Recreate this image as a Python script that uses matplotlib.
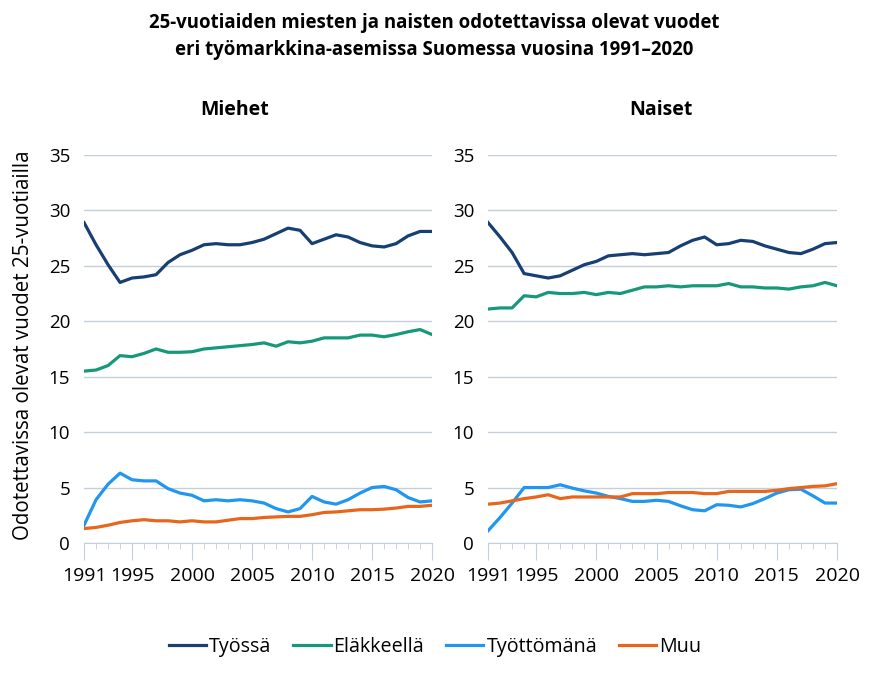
import numpy as np
import matplotlib
matplotlib.use("Agg")
import matplotlib.pyplot as plt
from matplotlib.ticker import MultipleLocator

plt.rcParams['font.family'] = ['Open Sans', 'DejaVu Sans']

years = np.arange(1991, 2021)

# Miehet
men_tyossa = [28.9, 26.9, 25.1, 23.5, 23.9, 24.0, 24.2, 25.3, 26.0, 26.4,
              26.9, 27.0, 26.9, 26.9, 27.1, 27.4, 27.9, 28.4, 28.2, 27.0,
              27.4, 27.8, 27.6, 27.1, 26.8, 26.7, 27.0, 27.7, 28.1, 28.1]
men_elakkeella = [15.5, 15.6, 16.0, 16.9, 16.8, 17.1, 17.5, 17.2, 17.2, 17.25,
                  17.5, 17.6, 17.7, 17.8, 17.9, 18.05, 17.75, 18.15, 18.05, 18.2,
                  18.5, 18.5, 18.5, 18.75, 18.75, 18.6, 18.8, 19.05, 19.25, 18.8]
men_tyottomana = [1.6, 3.9, 5.3, 6.3, 5.7, 5.6, 5.6, 4.9, 4.5, 4.3,
                  3.8, 3.9, 3.8, 3.9, 3.8, 3.6, 3.1, 2.8, 3.1, 4.2,
                  3.7, 3.5, 3.9, 4.5, 5.0, 5.1, 4.8, 4.1, 3.7, 3.8]
men_muu = [1.3, 1.4, 1.6, 1.85, 2.0, 2.1, 2.0, 2.0, 1.9, 2.0,
           1.9, 1.9, 2.05, 2.2, 2.2, 2.3, 2.35, 2.4, 2.4, 2.55,
           2.75, 2.8, 2.9, 3.0, 3.0, 3.05, 3.15, 3.3, 3.3, 3.4]

# Naiset
women_tyossa = [28.9, 27.6, 26.2, 24.3, 24.1, 23.9, 24.1, 24.6, 25.1, 25.4,
                25.9, 26.0, 26.1, 26.0, 26.1, 26.2, 26.8, 27.3, 27.6, 26.9,
                27.0, 27.3, 27.2, 26.8, 26.5, 26.2, 26.1, 26.5, 27.0, 27.1]
women_elakkeella = [21.1, 21.2, 21.2, 22.3, 22.2, 22.6, 22.5, 22.5, 22.6, 22.4,
                    22.6, 22.5, 22.8, 23.1, 23.1, 23.2, 23.1, 23.2, 23.2, 23.2,
                    23.4, 23.1, 23.1, 23.0, 23.0, 22.9, 23.1, 23.2, 23.5, 23.2]
women_tyottomana = [1.1, 2.3, 3.6, 5.0, 5.0, 5.0, 5.25, 4.95, 4.7, 4.5,
                    4.2, 4.0, 3.75, 3.75, 3.85, 3.75, 3.35, 3.0, 2.9, 3.45,
                    3.4, 3.25, 3.55, 4.0, 4.5, 4.8, 4.85, 4.25, 3.6, 3.6]
women_muu = [3.5, 3.6, 3.8, 4.0, 4.15, 4.35, 4.0, 4.15, 4.15, 4.15,
             4.15, 4.15, 4.45, 4.45, 4.45, 4.55, 4.55, 4.55, 4.45, 4.45,
             4.65, 4.65, 4.65, 4.65, 4.75, 4.9, 5.0, 5.1, 5.15, 5.35]

labels = ["Työssä", "Eläkkeellä", "Työttömänä", "Muu"]
colors = ["#173f72", "#16997a", "#2196f0", "#e8661c"]
year_labels = ["1991", "1995", "2000", "2005", "2010", "2015", "2020"]

fig = plt.figure(figsize=(8.69, 6.93), dpi=100)
ax_m = fig.add_axes([0.0967, 0.2165, 0.4005, 0.5599])
ax_w = fig.add_axes([0.5616, 0.2165, 0.4016, 0.5599])

panels = [
    (ax_m, "Miehet", 235, [men_tyossa, men_elakkeella, men_tyottomana, men_muu]),
    (ax_w, "Naiset", 661, [women_tyossa, women_elakkeella, women_tyottomana, women_muu]),
]

grid_col = "#c3d0dc"
for ax, title, title_x, series in panels:
    for vals, lab, col in zip(series, labels, colors):
        ax.plot(years, vals, color=col, lw=2.3, label=lab, solid_joinstyle="round")
    ax.set_xlim(1991, 2020)
    ax.set_ylim(0, 35)
    ax.yaxis.set_major_locator(MultipleLocator(5))
    ax.grid(axis="y", color=grid_col, lw=1)
    ax.set_axisbelow(True)
    for s in ["top", "right", "left"]:
        ax.spines[s].set_visible(False)
    ax.spines["bottom"].set_color(grid_col)
    ax.set_xticks([int(y) for y in year_labels])
    ax.set_xticklabels(year_labels)
    ax.set_xticks(years, minor=True)
    ax.tick_params(axis="x", which="major", length=12.5, color=grid_col, labelsize=14, pad=5)
    ax.tick_params(axis="x", which="minor", length=4, color=grid_col)
    ax.tick_params(axis="y", length=0, labelsize=13.5, pad=10)
    fig.text(title_x / 869, 1 - 110 / 693, title, ha="center", va="center",
             fontsize=14, fontweight="bold")

fig.text(0.5, 1 - 23 / 693, "25-vuotiaiden miesten ja naisten odotettavissa olevat vuodet",
         ha="center", va="center", fontsize=13.4, fontweight="bold")
fig.text(0.5, 1 - 50 / 693, "eri työmarkkina-asemissa Suomessa vuosina 1991–2020",
         ha="center", va="center", fontsize=13.4, fontweight="bold")
fig.text(24 / 869, 1 - 345 / 693, "Odotettavissa olevat vuodet 25-vuotiailla", rotation=90,
         ha="center", va="center", fontsize=14.8)

handles, labs = ax_m.get_legend_handles_labels()
fig.legend(handles, labs, loc="center", bbox_to_anchor=(435 / 869, 1 - 647 / 693), ncol=4,
           frameon=False, fontsize=14.2, handlelength=1.9, handletextpad=0.15,
           columnspacing=1.1)

fig.savefig("out.png", dpi=100, facecolor="white")
